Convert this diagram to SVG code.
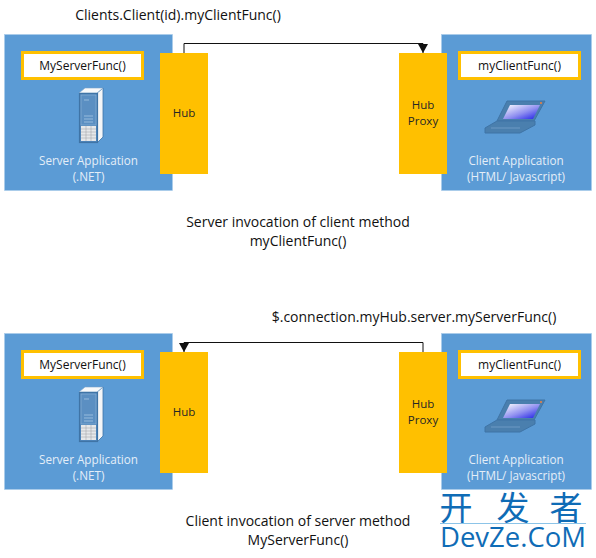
<svg xmlns="http://www.w3.org/2000/svg" width="596" height="558" viewBox="0 0 596 558">
<style>
text{font-family:"Open Sans","Noto Sans","Liberation Sans",sans-serif;text-anchor:middle}
.app{fill:#5b9bd5;stroke:#a9cbea;stroke-width:.6}
.hub{fill:#ffc000}
.fn{fill:#fff;stroke:#ffc000;stroke-width:3}
.wl{font-size:11.700px;fill:#e4eef8}
.dl{font-size:11.500px;fill:#262626}
.fl{font-size:12px;fill:#111}
.cap{font-size:14px;fill:#111}
.wire{fill:none;stroke:#111;stroke-width:1}
.wm{fill:#0f6cb6}
.cjk{font-family:"Noto Sans CJK SC",sans-serif;font-size:33px;font-weight:400}
</style>
<defs>
<linearGradient id="scr" x1="0" y1="0" x2="1" y2="1"><stop offset="0" stop-color="#fff"/><stop offset=".55" stop-color="#8f8ff0"/><stop offset="1" stop-color="#1a1ae6"/></linearGradient>
<marker id="ah" markerWidth="10" markerHeight="10" refX="9" refY="5" orient="auto" markerUnits="userSpaceOnUse" viewBox="0 0 10 10"><path d="M0 0L9 5L0 10Z" fill="#111"/></marker>
<g id="server">
<path d="M97 93l6-5v49l-6 6z" fill="#f4f6f8" stroke="#3f74a6" stroke-width=".8"/>
<path d="M79 93l6-5h18l-6 5z" fill="#f8f9fa" stroke="#7aa3c9" stroke-width=".6"/>
<rect x="79.500" y="93.500" width="18" height="49" fill="#4f86bb" stroke="#3f74a6" stroke-width="1.200"/>
<rect x="81" y="95" width="15" height="30" fill="#5b8fc2" stroke="#8fb4d8" stroke-width=".6"/>
<path d="M84 100h5M84 116h9M84 119h9M84 122h9" stroke="#a6c6e4" stroke-width=".8"/>
<rect x="81" y="126" width="15" height="15" fill="#e6e8ea"/>
<path d="M81 129h15M81 132h15M81 135h15M81 138h15M86 126v15M91 126v15" stroke="#9a9ea3" stroke-width=".5"/>
</g>
<g id="laptop">
<path d="M507 101h38l-11 20h-37z" fill="#4a7fae" stroke="#3f74a6"/>
<path d="M510 105h30l-7 14h-30z" fill="url(#scr)"/>
<circle cx="541" cy="103" r="1" fill="#f0803c"/>
<path d="M497 121h38v4l-15 8h-35v-5z" fill="#4a7fae" stroke="#3f74a6"/>
<path d="M491 128h29" stroke="#6d9ac4" stroke-width="1"/>
</g>
</defs>
<g id="connectors">
<path class="wire" d="M184 53V43.500H423V53" marker-end="url(#ah)"/>
<path class="wire" d="M423 352V342.500H184V352" marker-end="url(#ah)"/>
</g>
<g id="top-server"><rect class="app" x="4.500" y="34.500" width="168" height="156"/><use href="#server"/><text class="wl" x="88.500" y="165">Server Application</text><text class="wl" x="88.500" y="181">(.NET)</text></g>
<g id="top-server-func"><rect class="fn" x="22.500" y="52.500" width="120" height="26"/><text class="fl" x="82.500" y="70">MyServerFunc()</text></g>
<g id="top-hub"><rect class="hub" x="160" y="53" width="48" height="121"/><text class="dl" x="184" y="117">Hub</text></g>
<g id="top-client"><rect class="app" x="441.500" y="34.500" width="150" height="156"/><use href="#laptop"/><text class="wl" x="516" y="165">Client Application</text><text class="wl" x="516" y="181">(HTML/ Javascript)</text></g>
<g id="top-client-func"><rect class="fn" x="459.500" y="52.500" width="120" height="26"/><text class="fl" x="519.500" y="70">myClientFunc()</text></g>
<g id="top-proxy"><rect class="hub" x="399" y="53" width="48" height="121"/><text class="dl" x="423" y="109">Hub</text><text class="dl" x="423" y="125">Proxy</text></g>
<g id="bottom-server"><rect class="app" x="4.500" y="333.500" width="168" height="156"/><use href="#server" y="299"/><text class="wl" x="88.500" y="464">Server Application</text><text class="wl" x="88.500" y="480">(.NET)</text></g>
<g id="bottom-server-func"><rect class="fn" x="22.500" y="351.500" width="120" height="26"/><text class="fl" x="82.500" y="369">MyServerFunc()</text></g>
<g id="bottom-hub"><rect class="hub" x="160" y="352" width="48" height="121"/><text class="dl" x="184" y="416">Hub</text></g>
<g id="bottom-client"><rect class="app" x="441.500" y="333.500" width="150" height="156"/><use href="#laptop" y="299"/><text class="wl" x="516" y="464">Client Application</text><text class="wl" x="516" y="480">(HTML/ Javascript)</text></g>
<g id="bottom-client-func"><rect class="fn" x="459.500" y="351.500" width="120" height="26"/><text class="fl" x="519.500" y="369">myClientFunc()</text></g>
<g id="bottom-proxy"><rect class="hub" x="399" y="352" width="48" height="121"/><text class="dl" x="423" y="408">Hub</text><text class="dl" x="423" y="424">Proxy</text></g>
<g id="captions">
<text class="cap" x="178" y="20">Clients.Client(id).myClientFunc()</text>
<text class="cap" x="298" y="227">Server invocation of client method</text>
<text class="cap" x="298" y="246">myClientFunc()</text>
<text class="cap" x="414" y="322">$.connection.myHub.server.myServerFunc()</text>
<text class="cap" x="298" y="526">Client invocation of server method</text>
<text class="cap" x="298" y="545">MyServerFunc()</text>
</g>
<g id="watermark">
<text class="wm cjk" x="456" y="520">开</text>
<text class="wm cjk" x="513" y="520">发</text>
<text class="wm cjk" x="566" y="520">者</text>
<rect x="440" y="523" width="146" height="1" fill="#8cc4e8"/>
<text class="wm" x="513" y="547" textLength="146" lengthAdjust="spacingAndGlyphs" style="font-size:28px">DevZe.CoM</text>
</g>
</svg>
